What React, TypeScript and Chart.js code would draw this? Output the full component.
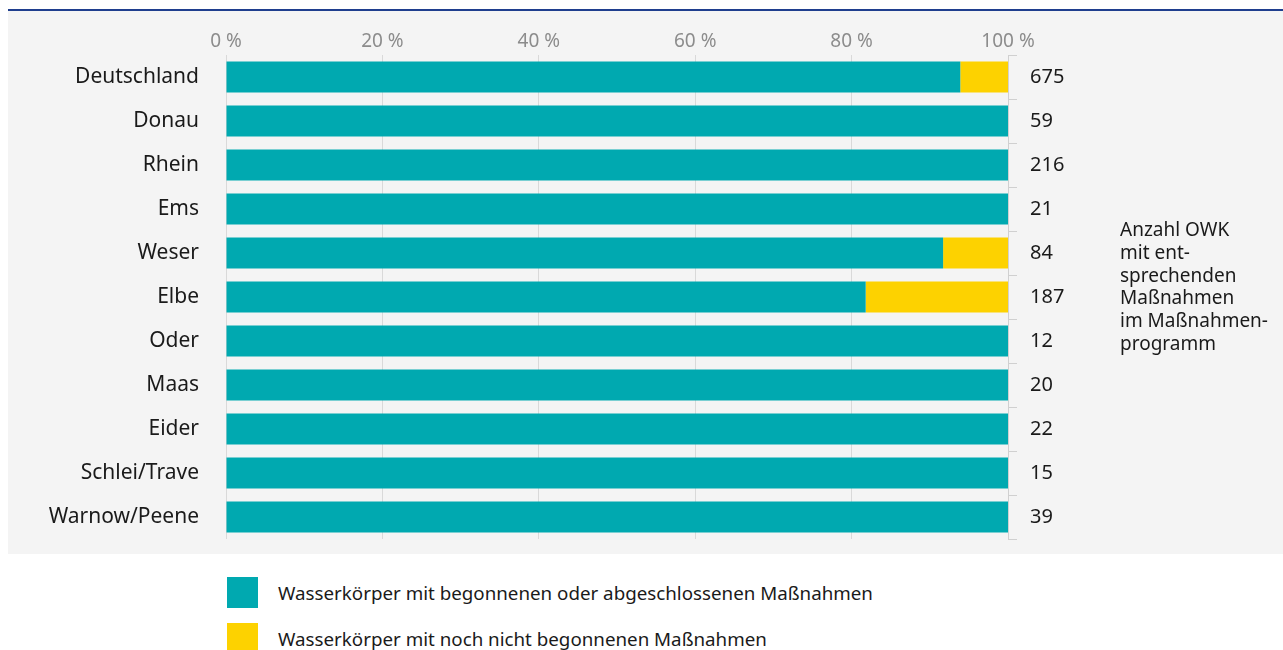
import React, { useEffect, useRef } from "react";
import { Chart, registerables } from "chart.js";

Chart.register(...registerables);

const categories = [
  "Deutschland",
  "Donau",
  "Rhein",
  "Ems",
  "Weser",
  "Elbe",
  "Oder",
  "Maas",
  "Eider",
  "Schlei/Trave",
  "Warnow/Peene",
];
const begonnen = [93.9, 100, 100, 100, 91.7, 81.8, 100, 100, 100, 100, 100];
const nichtBegonnen = [6.1, 0, 0, 0, 8.3, 18.2, 0, 0, 0, 0, 0];
const counts = ["675", "59", "216", "21", "84", "187", "12", "20", "22", "15", "39"];
const xTicks = [0, 20, 40, 60, 80, 100];
const seriesLabels = [
  "Wasserkörper mit begonnenen oder abgeschlossenen Maßnahmen",
  "Wasserkörper mit noch nicht begonnenen Maßnahmen",
];
const sideNote = ["Anzahl OWK", "mit ent-", "sprechenden", "Maßnahmen", "im Maßnahmen-", "programm"];

const TEAL = "#00a9b0";
const YELLOW = "#fdd200";
const FONT = "'Noto Sans', sans-serif";

export default function App() {
  const ref = useRef<HTMLCanvasElement | null>(null);

  useEffect(() => {
    if (!ref.current) return;
    const chart = new Chart(ref.current, {
      type: "bar",
      data: {
        labels: categories,
        datasets: [
          {
            label: seriesLabels[0],
            data: begonnen,
            backgroundColor: TEAL,
            borderWidth: 0,
            barPercentage: 0.7,
            categoryPercentage: 1,
            yAxisID: "y",
          },
          {
            label: seriesLabels[1],
            data: nichtBegonnen,
            backgroundColor: YELLOW,
            borderWidth: 0,
            barPercentage: 0.7,
            categoryPercentage: 1,
            yAxisID: "y",
          },
        ],
      },
      options: {
        indexAxis: "y",
        responsive: false,
        animation: false,
        layout: { padding: { top: 0, bottom: 15, left: 0, right: 0 } },
        plugins: {
          legend: { display: false },
          tooltip: { enabled: false },
        },
        scales: {
          x: {
            type: "linear",
            position: "top",
            stacked: true,
            min: 0,
            max: 100,
            afterBuildTicks: (s: any) => {
              s.ticks = xTicks.map((v) => ({ value: v }));
            },
            afterFit: (s: any) => {
              s.height = 44;
              s.paddingLeft = 0;
              s.paddingRight = 0;
            },
            ticks: {
              color: "#8c8c8c",
              padding: 2,
              font: { family: FONT, size: 19 },
              callback: (v: any) => v + " %",
            },
            grid: { color: "#d9d9d9", drawTicks: false, lineWidth: 1 },
            border: { display: false },
          },
          y: {
            type: "category",
            position: "left",
            stacked: true,
            offset: true,
            afterFit: (s: any) => {
              s.width = 218;
              s.paddingTop = 0;
              s.paddingBottom = 0;
            },
            ticks: {
              color: "#1a1a1a",
              padding: 27,
              font: { family: FONT, size: 21 },
            },
            grid: { display: false, drawTicks: false },
            border: { display: false },
          },
          y2: {
            type: "category",
            position: "right",
            labels: counts,
            offset: true,
            afterFit: (s: any) => {
              s.width = 275;
              s.paddingTop = 0;
              s.paddingBottom = 0;
            },
            ticks: {
              color: "#1a1a1a",
              padding: 13,
              font: { family: FONT, size: 20 },
            },
            grid: {
              display: true,
              drawOnChartArea: false,
              offset: true,
              tickLength: 9,
              color: "#d0d0d0",
            },
            border: { display: true, color: "#d0d0d0" },
          },
        },
      },
    });
    return () => chart.destroy();
  }, []);

  return (
    <div
      style={{
        position: "absolute",
        left: 0,
        top: 0,
        width: 1283,
        height: 650,
        overflow: "hidden",
        background: "#ffffff",
        fontFamily: FONT,
      }}
    >
      <div
        style={{
          position: "absolute",
          left: 8,
          top: 9,
          width: 1275,
          height: 2,
          background: "#1f3e8e",
        }}
      />
      <div
        style={{
          position: "absolute",
          left: 8,
          top: 11,
          width: 1275,
          height: 543,
          background: "#f4f4f4",
        }}
      >
        <canvas ref={ref} width={1275} height={543} style={{ display: "block" }} />
        <div
          style={{
            position: "absolute",
            left: 1112,
            top: 207,
            fontSize: 19,
            lineHeight: "22.8px",
            color: "#1a1a1a",
          }}
        >
          {sideNote.map((t, i) => (
            <div key={i}>{t}</div>
          ))}
        </div>
      </div>
      {seriesLabels.map((lbl, i) => (
        <div
          key={i}
          style={{
            position: "absolute",
            left: 227,
            top: 577 + i * 46,
            height: 31,
            display: "flex",
            alignItems: "center",
          }}
        >
          <div
            style={{
              width: 31,
              height: 31,
              background: i === 0 ? TEAL : YELLOW,
              flex: "none",
            }}
          />
          <div
            style={{
              marginLeft: 20,
              fontSize: 18.75,
              color: "#1a1a1a",
              whiteSpace: "nowrap",
            }}
          >
            {lbl}
          </div>
        </div>
      ))}
    </div>
  );
}
